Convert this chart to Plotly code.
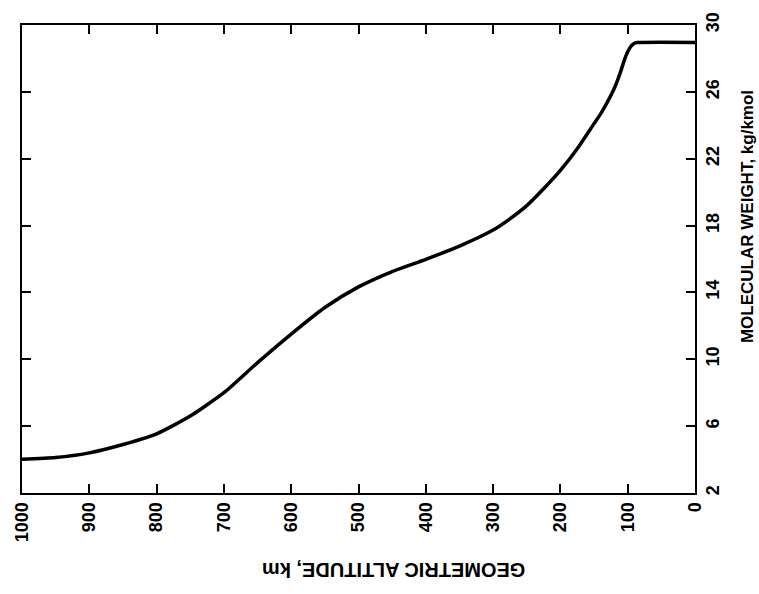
import plotly.graph_objects as go

altitude_km = [0, 86, 90, 95, 100, 105, 110, 115, 120, 130, 140, 150, 175, 200, 225, 250,
               275, 300, 350, 400, 450, 500, 550, 600, 650, 700, 750, 800, 850, 900, 950, 1000]
mol_weight = [28.96, 28.95, 28.91, 28.73, 28.40, 27.9, 27.27, 26.7, 26.20, 25.4, 24.7, 24.10,
              22.6, 21.30, 20.2, 19.19, 18.4, 17.73, 16.77, 15.98, 15.25, 14.33, 13.1, 11.51,
              9.8, 8.00, 6.6, 5.54, 4.9, 4.40, 4.12, 4.02]

x_ticks = [1000, 900, 800, 700, 600, 500, 400, 300, 200, 100, 0]
y_ticks = [2, 6, 10, 14, 18, 22, 26, 30]

FAMILY = "Liberation Sans, Arial, sans-serif"
FONT = dict(family=FAMILY, size=18, color="black", weight="bold")
XTFONT = dict(family=FAMILY, size=20, color="black", weight="bold")
YTFONT = dict(family=FAMILY, size=17, color="black", weight="bold")

fig = go.Figure()
fig.add_trace(go.Scatter(x=altitude_km, y=mol_weight, mode="lines",
                         line=dict(color="black", width=3.5, shape="spline", smoothing=0.6),
                         hoverinfo="skip", showlegend=False))

fig.update_layout(
    width=759, height=594,
    margin=dict(l=22, r=64, t=13, b=101),
    paper_bgcolor="white", plot_bgcolor="white",
    font=FONT,
    xaxis=dict(range=[1000, 0], tickvals=x_ticks, ticktext=[str(v) for v in x_ticks],
               tickangle=-90, ticks="inside", ticklen=9, tickwidth=2, tickcolor="black",
               showline=True, linewidth=2, linecolor="black", mirror="ticks",
               showgrid=False, zeroline=False, tickfont=FONT),
    yaxis=dict(range=[2, 30], side="right", tickvals=y_ticks, ticktext=[str(v) for v in y_ticks],
               tickangle=-90, ticks="inside", ticklen=9, tickwidth=2, tickcolor="black",
               showline=True, linewidth=2, linecolor="black", mirror="ticks",
               showgrid=False, zeroline=False, tickfont=FONT),
    annotations=[
        dict(text="GEOMETRIC ALTITUDE, km", xref="paper", yref="paper", x=0.553, y=-0.165,
             textangle=180, showarrow=False, font=XTFONT, xanchor="center", yanchor="middle"),
        dict(text="MOLECULAR WEIGHT, kg/kmol", xref="paper", yref="paper", x=1.079, y=0.59,
             textangle=-90, showarrow=False, font=YTFONT, xanchor="center", yanchor="middle"),
    ],
)

fig.write_html("out.html")
